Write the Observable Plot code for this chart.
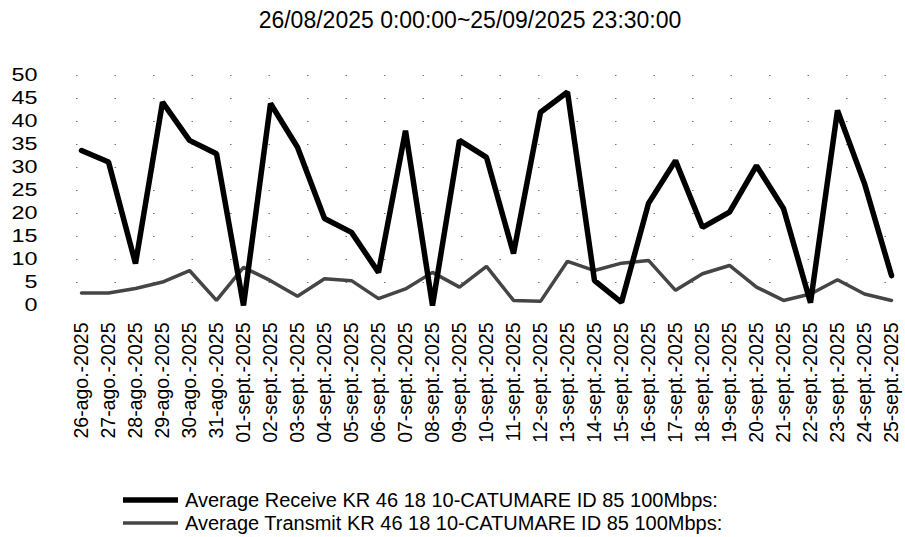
<!DOCTYPE html>
<html><head><meta charset="utf-8">
<script src="https://cdn.jsdelivr.net/npm/d3@7"></script>
<script src="https://cdn.jsdelivr.net/npm/@observablehq/plot@0.6"></script>
<style>
body{margin:0;background:#fff;font-family:"Liberation Sans",Arial,sans-serif;color:#000;}
#wrap{position:relative;width:905px;height:537px;overflow:hidden;background:#fff;}
#chart{position:absolute;left:0;top:0;}
#title{position:absolute;left:0;width:940px;top:9px;text-align:center;font-size:23px;line-height:23px;white-space:nowrap;}
.leg{position:absolute;left:123px;font-size:20px;line-height:20px;white-space:nowrap;display:flex;align-items:center;}
.leg svg{display:block;margin-right:7px;}
</style></head><body>
<div id="wrap">
<div id="chart"></div>
<div id="title">26/08/2025 0:00:00~25/09/2025 23:30:00</div>
<div id="legend"></div>
</div>
<script>
const dates = ["26-ago.-2025","27-ago.-2025","28-ago.-2025","29-ago.-2025","30-ago.-2025","31-ago.-2025",
  "01-sept.-2025","02-sept.-2025","03-sept.-2025","04-sept.-2025","05-sept.-2025","06-sept.-2025","07-sept.-2025",
  "08-sept.-2025","09-sept.-2025","10-sept.-2025","11-sept.-2025","12-sept.-2025","13-sept.-2025","14-sept.-2025",
  "15-sept.-2025","16-sept.-2025","17-sept.-2025","18-sept.-2025","19-sept.-2025","20-sept.-2025","21-sept.-2025",
  "22-sept.-2025","23-sept.-2025","24-sept.-2025","25-sept.-2025"];
const receive = [33.7,31.2,9.1,44.2,35.9,33.0,0,43.9,34.4,18.9,15.9,7.2,38.0,0,35.9,32.2,11.3,42.0,46.4,5.4,0.7,22.2,31.5,17.0,20.3,30.4,21.1,0.6,42.4,26.5,6.5];
const transmit = [2.7,2.7,3.7,5.1,7.6,1.1,8.3,5.4,2.0,5.8,5.4,1.5,3.6,7.2,4.0,8.5,1.1,0.9,9.6,7.6,9.2,9.8,3.3,6.9,8.7,4.0,1.1,2.5,5.6,2.5,1.1];
const yTicks = [0,5,10,15,20,25,30,35,40,45,50];
const seriesNames = ["Average Receive KR 46 18 10-CATUMARE ID 85 100Mbps:","Average Transmit KR 46 18 10-CATUMARE ID 85 100Mbps:"];
const seriesColors = ["#000000","#454545"];
const seriesWidths = [5.5,3.5];

const recRows = dates.map((d,i)=>({date:d,value:receive[i]}));
const traRows = dates.map((d,i)=>({date:d,value:transmit[i]}));

const svg = Plot.plot({
  width:905, height:460,
  marginLeft:76, marginRight:10, marginTop:75, marginBottom:155,
  style:{fontFamily:"Liberation Sans, Arial, sans-serif", color:"#000", background:"transparent", overflow:"visible"},
  x:{type:"point", domain:dates, padding:0},
  y:{domain:[0,50]},
  marks:[
    Plot.ruleY(yTicks.slice(1), {stroke:"#000", strokeOpacity:0.55, strokeDasharray:"1.5,37"}),
    Plot.axisX({tickRotate:-90, tickSize:0, tickPadding:17, fontSize:19.5, label:null}),
    Plot.axisY({ticks:yTicks, tickSize:0, tickPadding:39, fontSize:18, label:null}),
    Plot.line(traRows, {x:"date", y:"value", stroke:seriesColors[1], strokeWidth:seriesWidths[1], strokeLinejoin:"miter"}),
    Plot.line(recRows, {x:"date", y:"value", stroke:seriesColors[0], strokeWidth:seriesWidths[0], strokeLinejoin:"miter"})
  ]
});
document.getElementById("chart").appendChild(svg);
// widen the y tick labels as in the reference
for (const t of svg.querySelectorAll('g[aria-label="y-axis tick label"] text')) {
  const w = t.getComputedTextLength();
  if (w > 0) {
    t.setAttribute("textLength", (w * 1.3).toFixed(1));
    t.setAttribute("lengthAdjust", "spacingAndGlyphs");
  }
}

const legend = document.getElementById("legend");
const tops = [490, 513];
seriesNames.forEach((name,i)=>{
  const row = document.createElement("div");
  row.className = "leg";
  row.style.top = tops[i] + "px";
  row.innerHTML = `<svg width="55" height="20"><line x1="0" x2="55" y1="10" y2="10" stroke="${seriesColors[i]}" stroke-width="${seriesWidths[i]}"/></svg><span>${name}</span>`;
  legend.appendChild(row);
});
</script>
</body></html>
